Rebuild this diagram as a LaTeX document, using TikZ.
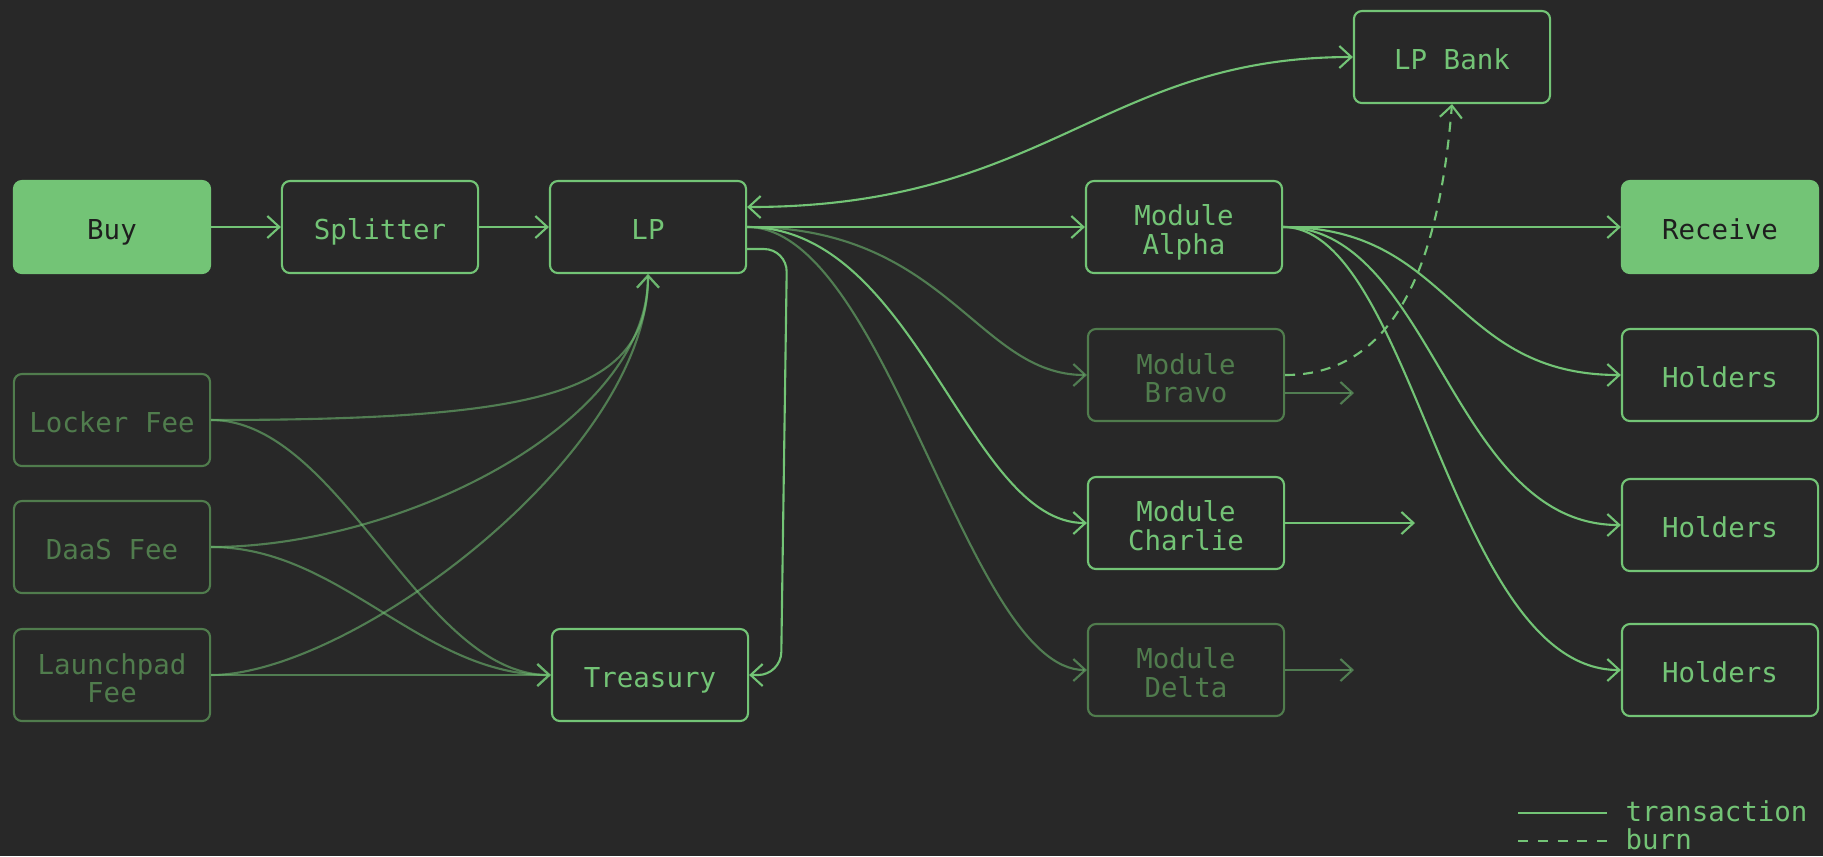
\documentclass[tikz,border=0pt]{standalone}
\usepackage{fontspec}
\setmonofont{DejaVu Sans Mono}
\usetikzlibrary{arrows.meta,calc}
\definecolor{bg}{HTML}{282828}
\definecolor{gr}{HTML}{73C476}
\definecolor{dim}{HTML}{507C4D}
\definecolor{ink}{HTML}{1E1E1E}
\newcommand\mytwo[2]{{\renewcommand\arraystretch{0.9}\rule[-2pt]{0pt}{19.8pt}\begin{tabular}[b]{@{}c@{}}#1\\#2\end{tabular}}}
\begin{document}
\begin{tikzpicture}[x=0.01cm,y=-0.01cm,
  box/.style={draw=gr, line width=0.6pt, rounded corners=0.08cm,
    minimum width=1.96cm, minimum height=0.92cm, text=gr, inner sep=0pt,
    font=\ttfamily\fontsize{7.8}{8.1}\selectfont,
    execute at begin node={\rule[-2pt]{0pt}{11.3pt}},
    execute at end node={\rule[-2pt]{0pt}{2pt}}},
  dimbox/.style={box, draw=dim, text=dim},
  solidbox/.style={box, fill=gr, text=ink},
  conn/.style={draw=gr, line width=0.6pt, -{Straight Barb[length=0.12cm,width=0.22cm]}},
  dimconn/.style={conn, draw opacity=0.55},
  burnline/.style={conn, dash pattern=on 0.1cm off 0.08cm},
  legline/.style={draw=gr, line width=0.6pt},
  legtext/.style={text=gr, inner sep=0pt, font=\ttfamily\fontsize{7.8}{8.6}\selectfont, anchor=base west}
]
\fill[bg] (0,0) rectangle (1823,856);
\useasboundingbox (0,0) rectangle (1823,856);

% nodes
\node[solidbox] (buy) at (112,227) {Buy};
\node[box] (split) at (380,227) {Splitter};
\node[box] (lp) at (648,227) {LP};
\node[box] (alpha) at (1184,227) {\mytwo{Module}{Alpha}};
\node[box] (bank) at (1452,57) {LP Bank};
\node[solidbox] (recv) at (1720,227) {Receive};
\node[dimbox] (locker) at (112,420) {Locker Fee};
\node[dimbox] (daas) at (112,547) {DaaS Fee};
\node[dimbox] (launch) at (112,675) {\mytwo{Launchpad}{Fee}};
\node[box] (treas) at (650,675) {Treasury};
\node[dimbox] (bravo) at (1186,375) {\mytwo{Module}{Bravo}};
\node[box] (charlie) at (1186,523) {\mytwo{Module}{Charlie}};
\node[dimbox] (delta) at (1186,670) {\mytwo{Module}{Delta}};
\node[box] (h1) at (1720,375) {Holders};
\node[box] (h2) at (1720,525) {Holders};
\node[box] (h3) at (1720,670) {Holders};

% main row
\draw[conn] (buy.east) -- (split.west);
\draw[conn] (split.east) -- (lp.west);
\draw[conn] (lp.east) -- (alpha.west);
\draw[conn] (alpha.east) -- (recv.west);

% LP <-> LP Bank
\draw[conn, {Straight Barb[length=0.12cm,width=0.22cm]}-{Straight Barb[length=0.12cm,width=0.22cm]}]
  ($(lp.east)+(0,-20)$) .. controls +(300,0) and +(-250,0) .. (bank.west);

% LP -> Treasury
\coordinate (tA) at (787,249);
\coordinate (tB) at (781,675);
\draw[conn, rounded corners=0.23cm] ($(lp.east)+(0,22)$) -- (tA) -- (tB) -- (treas.east);

% LP -> modules
\draw[dimconn] (lp.east) .. controls +(200,0) and +(-110,0) .. (bravo.west);
\draw[conn] (lp.east) .. controls +(170,0) and +(-120,0) .. (charlie.west);
\draw[dimconn] (lp.east) .. controls +(140,0) and +(-120,0) .. (delta.west);

% Alpha -> holders
\draw[conn] (alpha.east) .. controls +(170,0) and +(-170,0) .. (h1.west);
\draw[conn] (alpha.east) .. controls +(150,0) and +(-170,0) .. (h2.west);
\draw[conn] (alpha.east) .. controls +(130,0) and +(-170,0) .. (h3.west);

% fees -> LP
\draw[dimconn] (locker.east) .. controls +(340,0) and +(0,117) .. (lp.south);
\draw[dimconn] (daas.east) .. controls +(190,0) and +(0,150) .. (lp.south);
\draw[dimconn] (launch.east) .. controls +(140,0) and +(0,180) .. (lp.south);

% fees -> Treasury
\draw[dimconn] (locker.east) .. controls +(130,0) and +(-130,0) .. (treas.west);
\draw[dimconn] (daas.east) .. controls +(130,0) and +(-130,0) .. (treas.west);
\draw[dimconn] (launch.east) -- (treas.west);

% module outputs
\coordinate (bravoout) at (1354,393);
\coordinate (charlieout) at (1415,523);
\coordinate (deltaout) at (1354,670);
\draw[dimconn] ($(bravo.east)+(0,18)$) -- (bravoout);
\draw[conn] (charlie.east) -- (charlieout);
\draw[dimconn] (delta.east) -- (deltaout);

% burn
\draw[burnline] (bravo.east) .. controls +(116,0) and +(-12,147) .. (bank.south);

% legend
\coordinate (la1) at (1518,813);
\coordinate (la2) at (1607,813);
\coordinate (lb1) at (1518,841);
\coordinate (lb2) at (1607,841);
\draw[legline] (la1) -- (la2);
\draw[legline, dash pattern=on 0.1cm off 0.0975cm] (lb1) -- (lb2);
\node[legtext] (ltrans) at (1625,821) {transaction};
\node[legtext] (lburn) at (1625,849) {burn};
\end{tikzpicture}
\end{document}
